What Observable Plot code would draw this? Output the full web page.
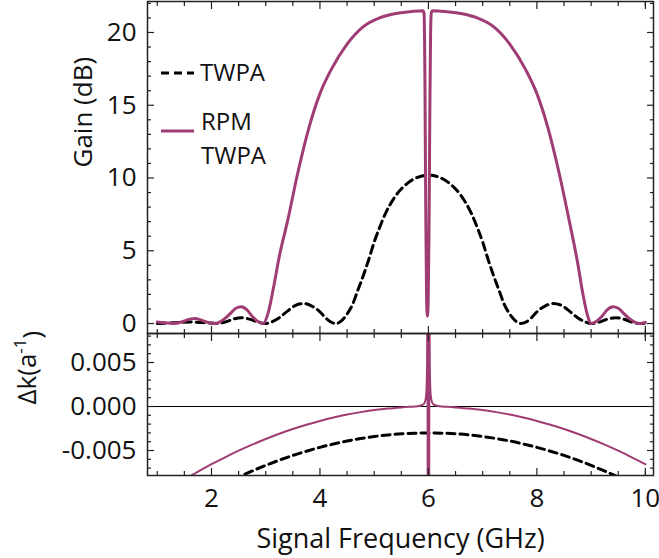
<!DOCTYPE html>
<html><head><meta charset="utf-8">
<script src="https://cdn.jsdelivr.net/npm/d3@7"></script>
<script src="https://cdn.jsdelivr.net/npm/@observablehq/plot@0.6"></script>
<style>
body{margin:0;background:#fff;}
#chart{width:659px;height:558px;position:relative;}
#chart svg{position:absolute;left:0;top:0;}
</style></head><body><div id="chart"></div>
<script>
// ---- data ----
const freqTWPA = [1.0,1.3,1.6,1.9,2.1,2.25,2.4,2.55,2.7,2.85,3.0,3.1,3.25,3.4,3.55,3.7,3.85,4.0,4.1,4.2,4.3,4.4,4.5,4.6,4.7,4.8,4.9,5.0,5.1,5.2,5.4,5.6,5.8,6.0,6.2,6.4,6.6,6.8,6.9,7.0,7.1,7.2,7.3,7.4,7.5,7.6,7.7,7.8,7.9,8.0,8.15,8.3,8.45,8.6,8.75,8.9,9.0,9.15,9.3,9.45,9.6,9.75,9.9,10.0];
const gainTWPA = [0.0,0.05,0.1,0.05,0.0,0.1,0.3,0.4,0.3,0.1,0.0,0.1,0.4,0.85,1.25,1.37,1.2,0.8,0.4,0.1,0.0,0.2,0.65,1.3,2.3,3.3,4.4,5.6,6.6,7.5,8.8,9.6,10.05,10.2,10.05,9.6,8.8,7.5,6.6,5.6,4.4,3.3,2.3,1.3,0.65,0.2,0.0,0.1,0.4,0.8,1.2,1.37,1.25,0.85,0.4,0.1,0.0,0.1,0.3,0.4,0.3,0.1,0.0,0.03];

const freqRPM = [1.00,1.15,1.30,1.45,1.60,1.70,1.80,1.95,2.05,2.15,2.25,2.35,2.45,2.55,2.65,2.75,2.85,2.95,3.05,3.15,3.25,3.40,3.60,3.80,4.00,4.20,4.50,4.80,5.10,5.40,5.70,5.90,5.92,5.935,5.95,5.965,5.98,5.995,6.01,6.025,6.04,6.055,6.08,6.30,6.60,6.90,7.20,7.50,7.80,8.00,8.20,8.40,8.60,8.75,8.85,8.93,9.00,9.10,9.20,9.30,9.40,9.50,9.60,9.70,9.80,9.90,10.00];
const gainRPM = [0.10,0.05,0.00,0.10,0.30,0.35,0.25,0.05,0.00,0.10,0.35,0.70,1.05,1.15,0.95,0.50,0.15,0.00,0.8,2.6,4.6,7.0,10.5,13.5,15.8,17.4,19.2,20.4,21.0,21.3,21.45,21.5,21.3,17,8,2,0.5,1.5,6,14,20,21.4,21.5,21.45,21.3,21.0,20.4,19.2,17.4,15.8,13.5,10.5,7.0,4.2,2.0,0.6,0.0,0.15,0.50,0.95,1.15,1.05,0.70,0.35,0.10,0.00,0.08];

const dkFreqTWPA = [2.4,2.6,2.8,3.0,3.25,3.5,3.75,4.0,4.25,4.5,4.75,5.0,5.25,5.5,5.75,6.0,6.25,6.5,6.75,7.0,7.25,7.5,7.75,8.0,8.25,8.5,8.75,9.0,9.2,9.4,9.6];
const dkTWPA = [-0.00831,-0.00774,-0.0072,-0.00669,-0.0061,-0.00556,-0.00508,-0.00464,-0.00426,-0.00392,-0.00364,-0.00341,-0.00323,-0.0031,-0.00303,-0.003,-0.00303,-0.0031,-0.00323,-0.00341,-0.00364,-0.00392,-0.00426,-0.00464,-0.00508,-0.00556,-0.0061,-0.00669,-0.0072,-0.00774,-0.00831];

const dkFreqRPM = [1.6,1.8,2.0,2.25,2.5,2.75,3.0,3.25,3.5,3.75,4.0,4.25,4.5,4.75,5.0,5.25,5.5,5.65,5.8,5.9,5.94,5.96,5.97,5.975,5.98,5.983,5.987,5.99,6.0,6.01,6.013,6.017,6.02,6.025,6.03,6.04,6.06,6.1,6.2,6.35,6.5,6.75,7.0,7.25,7.5,7.75,8.0,8.25,8.5,8.75,9.0,9.25,9.5,9.75,10.0];
const dkRPM = [-0.00794,-0.00723,-0.00656,-0.00577,-0.00502,-0.00433,-0.00369,-0.0031,-0.00256,-0.00208,-0.00164,-0.00126,-0.00092,-0.00064,-0.00041,-0.00023,-0.0001,-0.000034,0.000034,0.0002,0.00059,0.00145,0.003,0.005,0.0114,0.03,-0.036,-0.016,-0.0089,-0.016,-0.036,0.03,0.0114,0.005,0.003,0.00145,0.00059,0.0002,0.000034,-0.000034,-0.0001,-0.00023,-0.00041,-0.00064,-0.00092,-0.00126,-0.00164,-0.00208,-0.00256,-0.0031,-0.00369,-0.00433,-0.00502,-0.00577,-0.00656];

const seriesNames = ["TWPA", "RPM TWPA"];
const xMajorTicks = [2,4,6,8,10];
const xMinorTicks = [1,1.5,2.5,3,3.5,4.5,5,5.5,6.5,7,7.5,8.5,9,9.5,10];
const gainMajorTicks = [0,5,10,15,20];
const gainMinorTicks = [1,2,3,4,6,7,8,9,11,12,13,14,16,17,18,19,21,22];
const dkMajorTicks = [-0.005,0,0.005];
const dkMinorTicks = [-0.007,-0.006,-0.004,-0.003,-0.002,-0.001,0.001,0.002,0.003,0.004,0.006,0.007,0.008];
const xLabel = "Signal Frequency (GHz)";
const gainLabel = "Gain (dB)";
const dkLabel = "Δk(a-1)";

// ---- styling ----
const PURPLE = "#a03c74";
const FRAME = "#222";
const FONT = "'Open Sans', sans-serif";
const FS = 26;

const twpa = freqTWPA.map((f, i) => ({f, g: gainTWPA[i]}));
const rpm = freqRPM.map((f, i) => ({f, g: gainRPM[i]}));
const dkT = dkFreqTWPA.map((f, i) => ({f, d: dkTWPA[i]}));
const dkR = dkFreqRPM.map((f, i) => ({f, d: dkRPM[i]}));

function tickMarks(xMaj, xMin, yMaj, yMin) {
  const c = {stroke: FRAME, text: null, label: null, strokeWidth: 1.2};
  return [
    Plot.axisX(xMaj, {anchor: "bottom", tickSize: -7, ...c}),
    Plot.axisX(xMin, {anchor: "bottom", tickSize: -4, ...c}),
    Plot.axisX(xMaj, {anchor: "top", tickSize: -7, ...c}),
    Plot.axisX(xMin, {anchor: "top", tickSize: -4, ...c}),
    Plot.axisY(yMaj, {anchor: "left", tickSize: -7, ...c}),
    Plot.axisY(yMin, {anchor: "left", tickSize: -4, ...c}),
    Plot.axisY(yMaj, {anchor: "right", tickSize: -7, ...c}),
    Plot.axisY(yMin, {anchor: "right", tickSize: -4, ...c})
  ];
}

const xDomain = [0.82, 10.15];

const topPlot = Plot.plot({
  width: 659, height: 333,
  marginLeft: 147, marginRight: 6, marginTop: 1, marginBottom: 0,
  x: {domain: xDomain},
  y: {domain: [-0.687, 22.13]},
  style: {fontFamily: FONT, fontSize: FS + "px", color: "#111", background: "transparent", overflow: "visible"},
  marks: [
    Plot.line(twpa, {x: "f", y: "g", stroke: "#000", strokeWidth: 3, strokeDasharray: "8,5", curve: "monotone-x", clip: true}),
    Plot.line(rpm, {x: "f", y: "g", stroke: PURPLE, strokeWidth: 3, curve: "monotone-x", clip: true}),
    ...tickMarks(xMajorTicks, xMinorTicks, gainMajorTicks, gainMinorTicks),
    Plot.axisY(gainMajorTicks, {anchor: "left", tickSize: 0, tickPadding: 11, label: null, fontSize: FS}),
    Plot.frame({stroke: FRAME, strokeWidth: 1.5}),
    Plot.text([gainLabel], {frameAnchor: "left", dx: -64, rotate: -90, fontSize: FS, fill: "#111"})
  ]
});

const botPlot = Plot.plot({
  width: 659, height: 558,
  marginLeft: 147, marginRight: 6, marginTop: 333, marginBottom: 83,
  x: {domain: xDomain},
  y: {domain: [-0.00784, 0.008295]},
  style: {fontFamily: FONT, fontSize: FS + "px", color: "#111", background: "transparent", overflow: "visible"},
  marks: [
    Plot.ruleY([0], {stroke: "#000", strokeWidth: 1}),
    Plot.line(dkT, {x: "f", y: "d", stroke: "#000", strokeWidth: 3, strokeDasharray: "8,5", curve: "monotone-x", clip: true}),
    Plot.line(dkR, {x: "f", y: "d", stroke: PURPLE, strokeWidth: 2, curve: "monotone-x", clip: true}),
    ...tickMarks(xMajorTicks, xMinorTicks, dkMajorTicks, dkMinorTicks),
    Plot.axisY(dkMajorTicks, {anchor: "left", tickSize: 0, tickPadding: 11, label: null, fontSize: FS, tickFormat: d => d.toFixed(3)}),
    Plot.axisX(xMajorTicks, {anchor: "bottom", tickSize: 0, tickPadding: 13, label: null, fontSize: FS}),
    Plot.frame({stroke: FRAME, strokeWidth: 1.5}),
    Plot.text([dkLabel], {frameAnchor: "left", dx: -120, rotate: -90, fontSize: FS, fill: "#111"}),
    Plot.text([xLabel], {frameAnchor: "bottom", dy: 72, fontSize: 27, fill: "#111"})
  ]
});

const host = document.getElementById("chart");
host.appendChild(botPlot);
host.appendChild(topPlot);

// superscript for Δk(a^-1)
d3.select(botPlot).selectAll("text").filter(function() { return this.textContent === dkLabel; })
  .each(function() {
    const t = d3.select(this);
    t.text("");
    t.append("tspan").text("Δk(a");
    t.append("tspan").attr("font-size", 17).attr("dy", "-0.55em").text("-1");
    t.append("tspan").attr("dy", "0.55em").text(")");
  });

// legend (inside the top panel)
const LFS = 24;
const lg = d3.select(topPlot).append("g").attr("font-family", FONT).attr("font-size", LFS)
  .attr("fill", "#111").attr("text-anchor", "start");
lg.append("line").attr("x1", 161).attr("x2", 194).attr("y1", 73).attr("y2", 73)
  .attr("stroke", "#000").attr("stroke-width", 3).attr("stroke-dasharray", "8,5");
lg.append("text").attr("x", 200).attr("y", 73).attr("dy", "0.35em").text(seriesNames[0]);
lg.append("line").attr("x1", 161).attr("x2", 194).attr("y1", 131).attr("y2", 131)
  .attr("stroke", PURPLE).attr("stroke-width", 3);
const [w1, w2] = seriesNames[1].split(" ");
lg.append("text").attr("x", 201).attr("y", 122).attr("dy", "0.35em").text(w1);
lg.append("text").attr("x", 201).attr("y", 156).attr("dy", "0.35em").text(w2);
</script></body></html>
